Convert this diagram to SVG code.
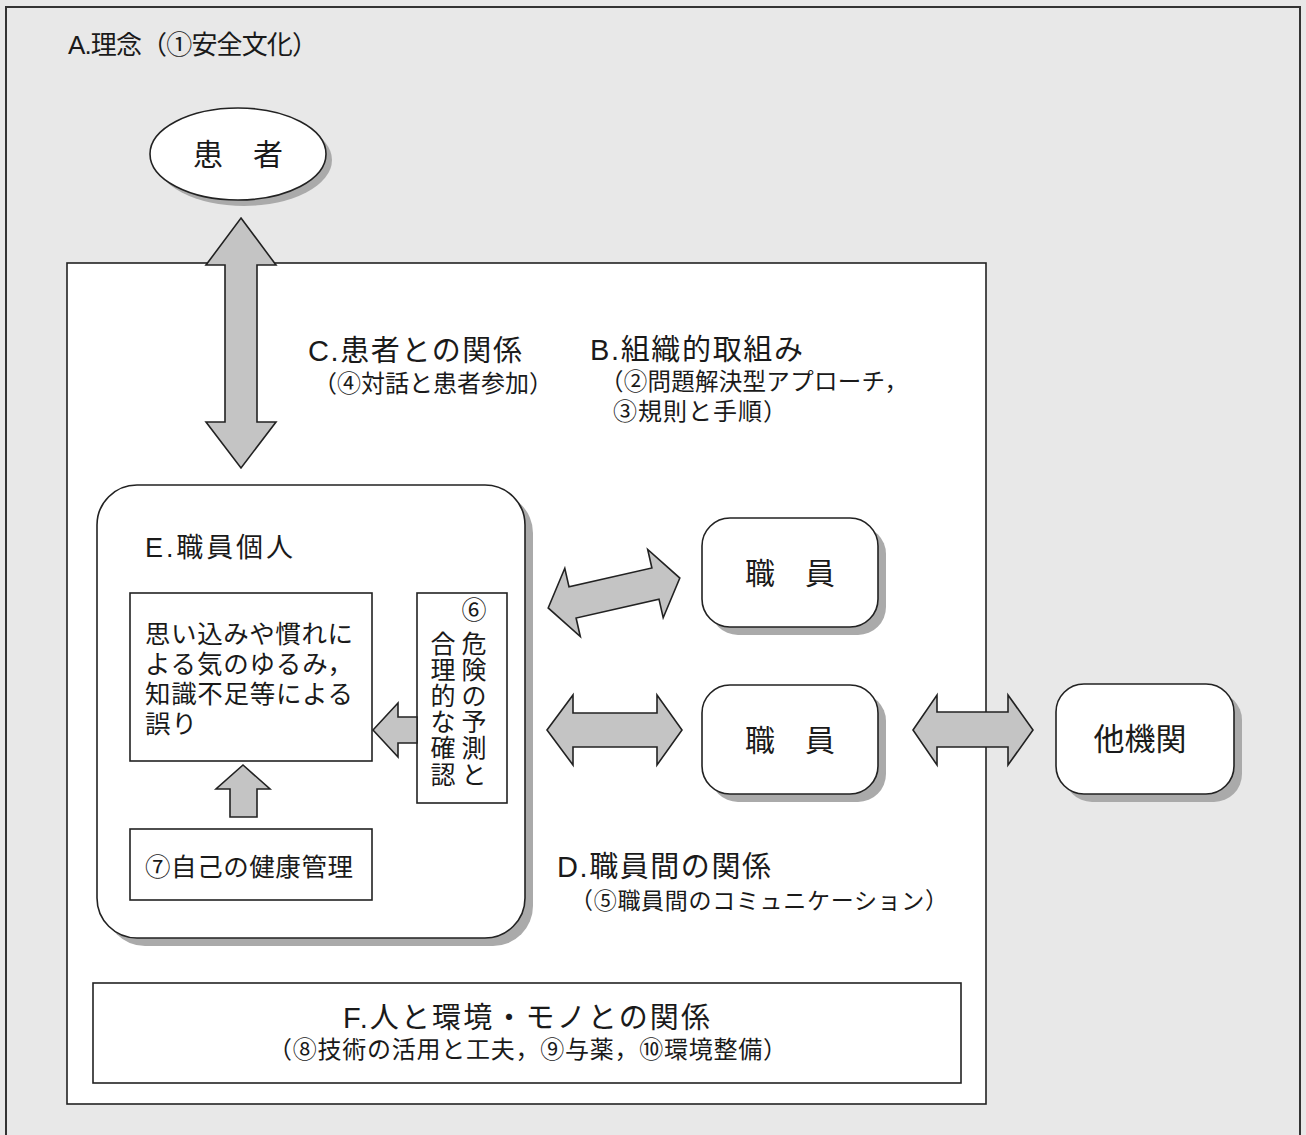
<svg xmlns="http://www.w3.org/2000/svg" width="1306" height="1135" viewBox="0 0 1306 1135">
<style>
.t{font-family:"Liberation Sans","Noto Sans CJK JP",sans-serif;fill:#1a1a1a}
.box{fill:#fff;stroke:#222;stroke-width:1.6}
.shadow{fill:#aaa}
.arr{fill:#c4c4c4;stroke:#222;stroke-width:1.6;stroke-linejoin:miter}
.v{font-size:25px;text-anchor:middle}
</style>
<rect x="0" y="0" width="1306" height="1135" fill="#e8e8e8"/>
<rect x="6" y="7" width="1294" height="1140" fill="none" stroke="#333" stroke-width="2"/>
<text class="t" x="68" y="54" font-size="26" textLength="250">A.理念（①安全文化）</text>

<g id="patient">
<ellipse cx="244" cy="160" rx="88" ry="46" class="shadow"/>
<ellipse cx="238" cy="154" rx="88" ry="46" class="box"/>
<text class="t" x="238" y="165" font-size="30" text-anchor="middle">患　者</text>
</g>

<g id="organization">
<rect x="67" y="263" width="919" height="841" class="box"/>
<text class="t" x="308" y="361" font-size="29" textLength="214">C.患者との関係</text>
<text class="t" x="313" y="392" font-size="24" textLength="240">（④対話と患者参加）</text>
<text class="t" x="590" y="360" font-size="29" textLength="213">B.組織的取組み</text>
<text class="t" x="600" y="390" font-size="23.5" textLength="308">（②問題解決型アプローチ，</text>
<text class="t" x="613" y="420" font-size="24" textLength="174">③規則と手順）</text>
<text class="t" x="557" y="877" font-size="29" textLength="214">D.職員間の関係</text>
<text class="t" x="570" y="909" font-size="23" textLength="378">（⑤職員間のコミュニケーション）</text>
</g>

<g id="staff-individual">
<rect x="105" y="493" width="428" height="453" rx="40" class="shadow"/>
<rect x="97" y="485" width="428" height="453" rx="40" class="box"/>
<text class="t" x="145" y="557" font-size="27" textLength="148">E.職員個人</text>
</g>

<g id="error-box">
<rect x="130" y="593" width="242" height="168" class="box"/>
<text class="t" x="145" y="643" font-size="25.5" textLength="208">思い込みや慣れに</text>
<text class="t" x="145" y="673" font-size="25.5" textLength="208">よる気のゆるみ，</text>
<text class="t" x="145" y="703" font-size="25.5" textLength="208">知識不足等による</text>
<text class="t" x="145" y="733" font-size="25.5" textLength="52">誤り</text>
</g>

<g id="risk-box">
<rect x="417" y="593" width="90" height="210" class="box"/>
<g class="t v">
<text x="474" y="619">⑥</text>
<text x="474" y="653">危</text>
<text x="474" y="679">険</text>
<text x="474" y="705">の</text>
<text x="474" y="731">予</text>
<text x="474" y="757">測</text>
<text x="474" y="784">と</text>
<text x="443" y="653">合</text>
<text x="443" y="679">理</text>
<text x="443" y="705">的</text>
<text x="443" y="731">な</text>
<text x="443" y="757">確</text>
<text x="443" y="784">認</text>
</g>
</g>

<g id="health-box">
<rect x="130" y="829" width="242" height="71" class="box"/>
<text class="t" x="145" y="876" font-size="25.5" textLength="208">⑦自己の健康管理</text>
</g>

<g id="staff1">
<rect x="710" y="526" width="176" height="109" rx="28" class="shadow"/>
<rect x="702" y="518" width="176" height="109" rx="28" class="box"/>
<text class="t" x="790" y="584" font-size="30" text-anchor="middle">職　員</text>
</g>

<g id="staff2">
<rect x="710" y="693" width="176" height="109" rx="28" class="shadow"/>
<rect x="702" y="685" width="176" height="109" rx="28" class="box"/>
<text class="t" x="790" y="751" font-size="30" text-anchor="middle">職　員</text>
</g>

<g id="other-org">
<rect x="1064" y="692" width="178" height="110" rx="28" class="shadow"/>
<rect x="1056" y="684" width="178" height="110" rx="28" class="box"/>
<text class="t" x="1140" y="750" font-size="31" text-anchor="middle">他機関</text>
</g>

<g id="environment">
<rect x="93" y="983" width="868" height="100" class="box"/>
<text class="t" x="343" y="1028" font-size="29" textLength="367">F.人と環境・モノとの関係</text>
<text class="t" x="268" y="1058" font-size="24" textLength="519">（⑧技術の活用と工夫，⑨与薬，⑩環境整備）</text>
</g>

<g id="connectors">
<polygon class="arr" points="241,218 276,265 257,265 257,422 276,422 241,468 206,422 225,422 225,265 206,265"/>
<polygon class="arr" transform="translate(614,593) rotate(-12.8)" points="-67.5,0 -42.5,-35 -42.5,-16 42.5,-16 42.5,-35 67.5,0 42.5,35 42.5,16 -42.5,16 -42.5,35"/>
<polygon class="arr" points="547,730 573,695 573,713 657,713 657,695 682,730 657,765 657,747 573,747 573,765"/>
<polygon class="arr" points="913,730 937,695 937,712 1008,712 1008,695 1033,730 1008,765 1008,747 937,747 937,765"/>
<polygon class="arr" points="373,730 398,703 398,717 417,717 417,743 398,743 398,757"/>
<polygon class="arr" points="243,765 270,789 257,789 257,817 230,817 230,789 216,789"/>
</g>
</svg>
